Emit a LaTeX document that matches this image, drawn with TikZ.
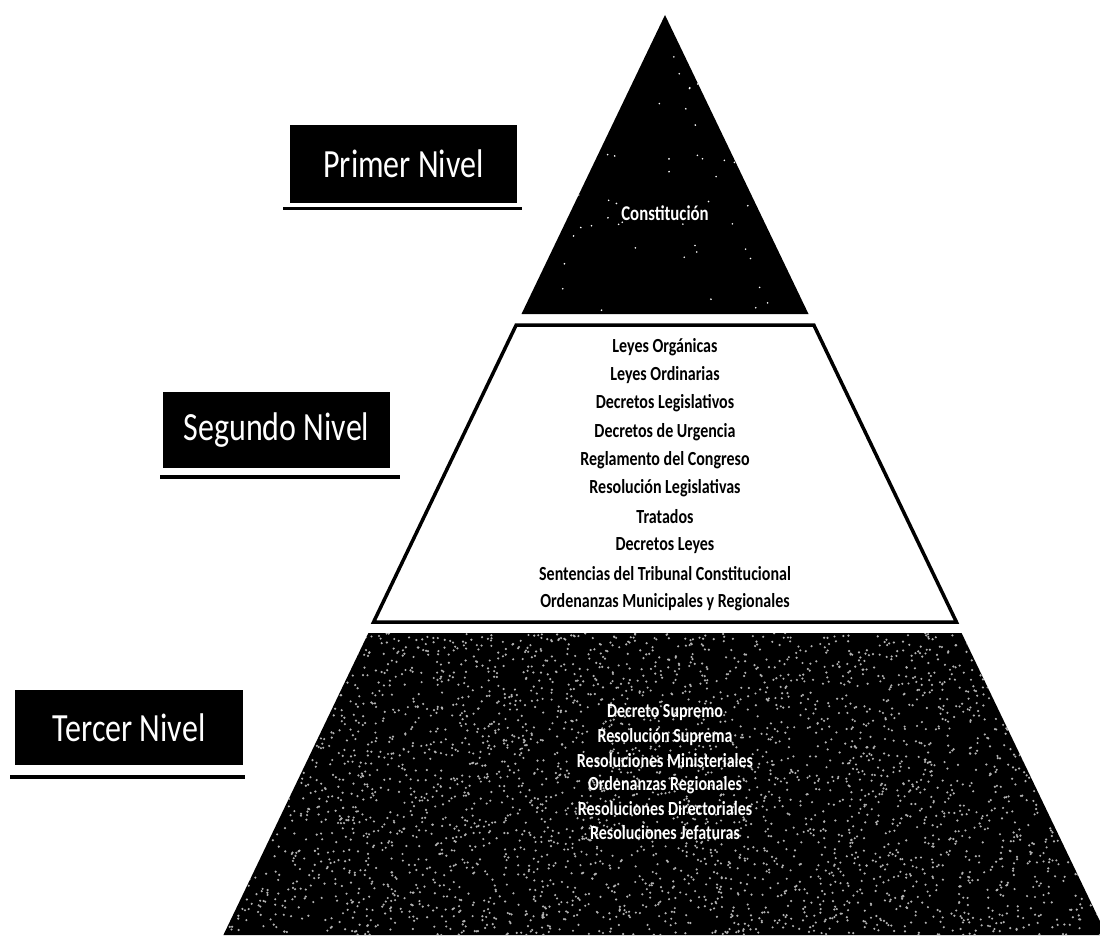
\documentclass[tikz,border=0pt]{standalone}
\usepackage{fontspec}
\setmainfont{Carlito}
\usetikzlibrary{calc}
\newcommand{\sqz}[1]{\scalebox{0.8}[1]{#1}}
\begin{document}
\begin{tikzpicture}[x=1pt,y=-1pt,
  levelbox/.style={fill=black,text=white,inner sep=0pt,font=\fontsize{40}{44}\selectfont},
  uline/.style={line width=3.5pt},
  midtext/.style={text=black,inner sep=0pt,font=\fontsize{20}{24}\selectfont\bfseries},
  lowtext/.style={text=white,inner sep=0pt,font=\fontsize{20}{24}\selectfont\bfseries},
  toptext/.style={text=white,inner sep=0pt,font=\fontsize{21}{24}\selectfont\bfseries}]
\useasboundingbox (0,0) rectangle (1100,941);
% --- top triangle
\fill[black] (665,15) -- (808.5,314) -- (521.5,314) -- cycle;
\begin{scope}
\clip (665,15) -- (808.5,314) -- (521.5,314) -- cycle;
\pgfmathsetseed{11}
\foreach \i in {1,...,90}{
  \pgfmathsetmacro\rx{520+290*rnd}
  \pgfmathsetmacro\ry{15+300*rnd}
  \fill[white] (\rx,\ry) circle (0.9pt);
}
\end{scope}
% --- middle trapezoid
\draw[line width=3.5pt,fill=white,line join=miter] (516.2,325) -- (813.8,325) -- (956.4,622) -- (373.6,622) -- cycle;
% --- bottom trapezoid
\fill[black] (368.4,633) -- (961.6,633) -- (1106.6,935) -- (223.4,935) -- cycle;
\begin{scope}
\clip (368.4,633) -- (961.6,633) -- (1106.6,935) -- (223.4,935) -- cycle;
\pgfmathsetseed{7}
\foreach \i in {1,...,4000}{
  \pgfmathsetmacro\rx{220+890*rnd}
  \pgfmathsetmacro\ry{633+302*rnd}
  \fill[gray!60] (\rx,\ry) circle (1.2pt);
}
\end{scope}
% --- texts in pyramid
\node[toptext] (const) at (665,213) {\sqz{Constitución}};
\foreach \t [count=\i] in {Leyes Orgánicas,Leyes Ordinarias,Decretos Legislativos,Decretos de Urgencia,Reglamento del Congreso,Resolución Legislativas,Tratados,Decretos Leyes,Sentencias del Tribunal Constitucional,Ordenanzas Municipales y Regionales}{
  \node[midtext] (m\i) at (665,{347+(\i-1)*28.3}) {\sqz{\t}};
}
\foreach \t [count=\i] in {Decreto Supremo,Resolución Suprema,Resoluciones Ministeriales,Ordenanzas Regionales,Resoluciones Directoriales,Resoluciones Jefaturas}{
  \node[lowtext] (b\i) at (665,{713+(\i-1)*24}) {\sqz{\t}};
}
% --- level labels
\node[levelbox,minimum width=227pt,minimum height=78pt] (primer) at (403.5,164) {\sqz{Primer Nivel}};
\node[levelbox,minimum width=227pt,minimum height=76pt] (segundo) at (276.5,430) {\sqz{Segundo Nivel}};
\node[levelbox,minimum width=228pt,minimum height=75pt] (tercer) at (129,727.5) {\sqz{Tercer Nivel}};
\draw[uline] (283,208.5) -- (522,208.5);
\draw[uline] (160,477) -- (400,477);
\draw[uline] (10,777) -- (245,777);
\end{tikzpicture}
\end{document}
